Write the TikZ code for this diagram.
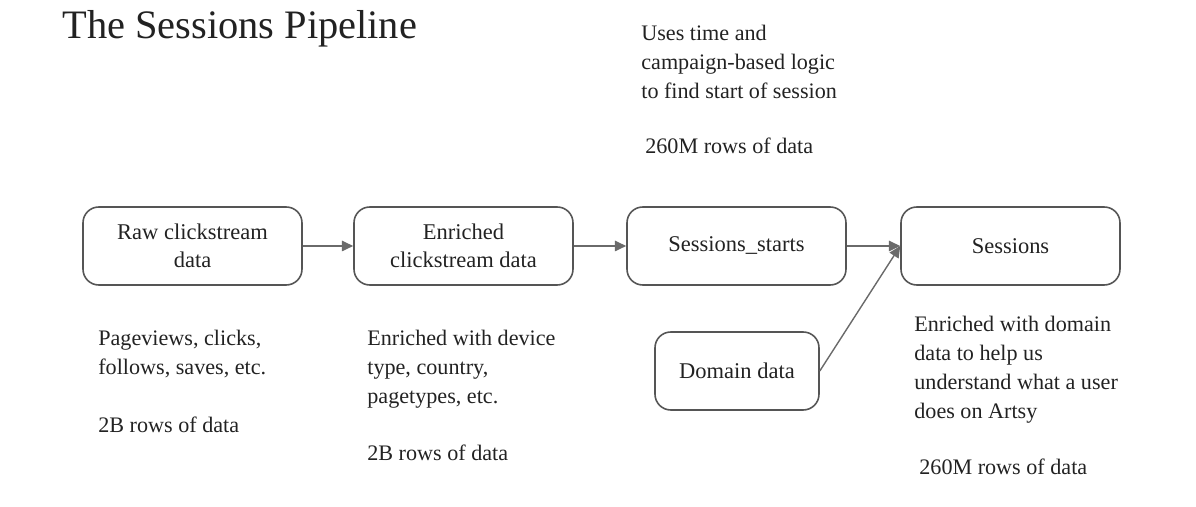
\documentclass[tikz,border=0pt]{standalone}
\usepackage{fontspec}
\setmainfont{Liberation Serif}
\usetikzlibrary{arrows.meta}
\definecolor{boxline}{HTML}{555555}
\definecolor{arrline}{HTML}{6A6A6A}
\definecolor{ink}{HTML}{222222}
\begin{document}
\begin{tikzpicture}[stage/.style = {draw=boxline, line width=0.9pt, rounded corners=9pt, minimum width=4.38cm, minimum height=1.56cm, align=center, text=ink, font=\fontsize{12.8}{16}\selectfont},
	note/.style = {anchor=north west, inner sep=0pt, align=left, text=ink, font=\fontsize{12.6}{16.4}\selectfont},
	flow/.style = {draw=arrline, line width=0.8pt, -{Triangle[length=6.5pt,width=6pt]}}]
				\useasboundingbox (0,0) rectangle (23.92,10.14);
				\node[anchor=base west, inner sep=0pt, text=ink, font=\fontsize{23}{27}\selectfont] (title) at (1.24,9.36) {The Sessions Pipeline};
				\begin{scope}[every node/.style={stage}]
					\node (raw) at (3.85,5.22) {Raw clickstream\\data};
					\node (enriched) at (9.27,5.22) {Enriched\\clickstream data};
					\node (starts) at (14.73,5.22) {Sessions\_starts};
					\node (sessions) at (20.21,5.22) {Sessions};
					\node[minimum width=3.28cm] (domain) at (14.74,2.72) {Domain data};
				\end{scope}
				\begin{scope}[every node/.style={note}]
					\node (startsnote) at (12.82,9.64) {Uses time and\\campaign-based logic\\to find start of session};
					\node (startsrows) at (12.9,7.38) {260M rows of data};
					\node (rawnote) at (1.96,3.54) {Pageviews, clicks,\\follows, saves, etc.};
					\node (rawrows) at (1.96,1.8) {2B rows of data};
					\node (enrichednote) at (7.34,3.54) {Enriched with device\\type, country,\\pagetypes, etc.};
					\node (enrichedrows) at (7.34,1.24) {2B rows of data};
					\node (sessionsnote) at (18.28,3.82) {Enriched with domain\\data to help us\\understand what a user\\does on Artsy};
					\node (sessionsrows) at (18.38,0.96) {260M rows of data};
				\end{scope}
				\draw [flow] (raw) -- (enriched);
				\draw [flow] (enriched) -- (starts);
				\draw [flow] (starts) -- (sessions);
				\draw [flow] (domain.east) -- (sessions.west);
			\end{tikzpicture}
\end{document}
